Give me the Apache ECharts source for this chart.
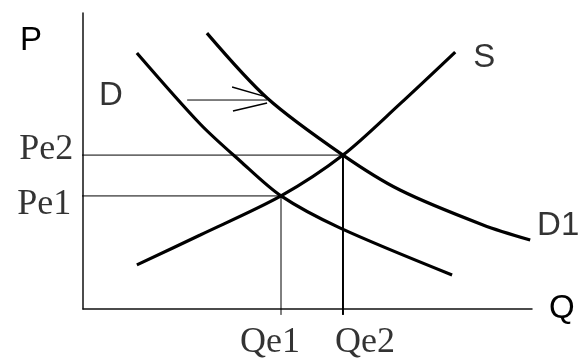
<!DOCTYPE html>
<html>
<head>
<meta charset="utf-8">
<title>Supply and demand shift</title>
<script src="https://cdn.jsdelivr.net/npm/echarts/dist/echarts.min.js"></script>
<style>
  html, body { margin: 0; background: #fff; }
  #main { width: 580px; height: 362px; }
</style>
</head>
<body>
<div id="main"></div>
<script>
// points as [Q, P], both axes run 0..100
var demandD  = [[12.0, 86.5], [26.1, 62.5], [35.0, 50.0], [44.1, 38.2], [57.2, 27.4], [82.2, 11.5]];
var demandD1 = [[27.6, 93.2], [41.0, 71.3], [57.9, 52.0], [70.6, 40.2], [89.1, 28.4], [99.6, 23.3]];
var supplyS  = [[12.0, 14.9], [26.1, 25.0], [44.1, 38.2], [57.9, 52.0], [70.6, 69.3], [82.9, 86.8]];

// equilibrium quantities / prices
var qe = [44.1, 57.9];
var pe = [38.2, 52.0];
var qeLabels = ['Qe1', 'Qe2'];
var peLabels = ['Pe1', 'Pe2'];

// the shift arrow D -> D1
var arrowShaft = [[23.2, 70.6], [41.0, 70.6]];
var arrowUp    = [[33.2, 75.0], [41.0, 71.6]];
var arrowDown  = [[33.4, 66.9], [41.0, 69.6]];

var SANS = '"Liberation Sans", Arial, sans-serif';
var SERIF = '"Liberation Serif", "Times New Roman", serif';
var TICK = 2; // how far the guide lines poke past the axes

function curve(name, data) {
    return {
        name: name, type: 'line', data: data, smooth: 0.3,
        showSymbol: false, clip: false, silent: true,
        lineStyle: { color: '#000', width: 3.2 }
    };
}
function seg(data, width) {
    return {
        type: 'line', data: data, showSymbol: false, clip: false, silent: true,
        lineStyle: { color: '#000', width: width }
    };
}
function txt(point, text, font, off) {
    return {
        value: point,
        label: {
            show: true, position: 'inside', formatter: text, offset: off,
            color: '#000', fontFamily: font, fontSize: font === SERIF ? 36 : 33
        }
    };
}

var series = [
    curve('S', supplyS),
    curve('D', demandD),
    curve('D1', demandD1),
    seg([[-TICK * 0.65, pe[1]], [qe[1], pe[1]]], 1),
    seg([[-TICK * 0.65, pe[0]], [qe[0], pe[0]]], 1),
    seg([[qe[0], -TICK], [qe[0], pe[0]]], 1),
    seg([[qe[1], -TICK], [qe[1], pe[1]]], 2),
    seg(arrowShaft, 1),
    seg(arrowUp, 1.4),
    seg(arrowDown, 1.4)
];

// text marks hung on the ends of the lines
series.push({
    type: 'scatter', symbolSize: 1, clip: false, silent: true,
    itemStyle: { color: 'rgba(0,0,0,0)' },
    data: [
        txt(supplyS[supplyS.length - 1], 'S', SANS, [29, 6]),
        txt(demandD1[demandD1.length - 1], 'D1', SANS, [28, -14]),
        txt(demandD[0], 'D', SANS, [-26, 43]),
        txt([-TICK * 0.65, pe[1]], peLabels[1], SERIF, [-31, -6]),
        txt([-TICK * 0.65, pe[0]], peLabels[0], SERIF, [-33, 9]),
        txt([qe[0], -TICK], qeLabels[0], SERIF, [-11, 28]),
        txt([qe[1], -TICK], qeLabels[1], SERIF, [22, 28])
    ]
});

var myChart = echarts.init(document.getElementById('main'));
myChart.setOption({
    animation: false,
    backgroundColor: '#fff',
    grid: { left: 83, right: 48, top: 13, bottom: 53 },
    xAxis: {
        type: 'value', min: 0, max: 100,
        name: 'Q', nameLocation: 'end', nameGap: 17,
        nameTextStyle: { color: '#000', fontFamily: SANS, fontSize: 33, align: 'left', verticalAlign: 'middle', padding: [8, 0, 0, 0] },
        axisLine: { lineStyle: { color: '#111', width: 1.5 } },
        axisTick: { show: false }, axisLabel: { show: false }, splitLine: { show: false }
    },
    yAxis: {
        type: 'value', min: 0, max: 100,
        name: 'P', nameLocation: 'end', nameGap: -28,
        nameTextStyle: { color: '#000', fontFamily: SANS, fontSize: 33, align: 'right', verticalAlign: 'middle', padding: [0, 41, 0, 0] },
        axisLine: { show: true, lineStyle: { color: '#111', width: 1.5 } },
        axisTick: { show: false }, axisLabel: { show: false }, splitLine: { show: false }
    },
    series: series
});
</script>
</body>
</html>
